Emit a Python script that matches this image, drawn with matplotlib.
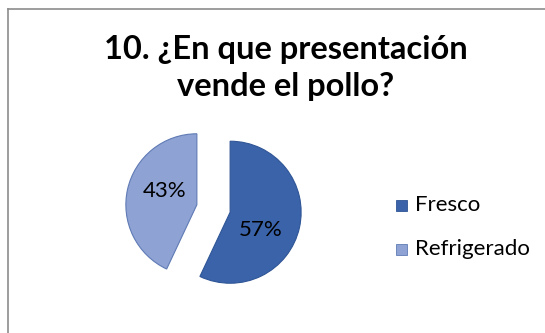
import numpy as np
import matplotlib
matplotlib.use("Agg")
import matplotlib.pyplot as plt
from matplotlib.lines import Line2D

categories = ["Fresco", "Refrigerado"]
shares = [57, 43]
pct_labels = ["57%", "43%"]
colors = ["#3A63AA", "#8EA3D3"]
edge_colors = ["#2F5596", "#5F7AB5"]

W, H, DPI = 545, 333, 100
fig = plt.figure(figsize=(W / DPI, H / DPI), dpi=DPI)
fig.patch.set_facecolor("white")
FONT = ["Lato", "DejaVu Sans"]

# chart frame (open to the right and bottom)
fig.add_artist(Line2D([7.5 / W, 7.5 / W], [0, 1 - 8.5 / H], transform=fig.transFigure,
                      color="#8C8C8C", lw=1.2))
fig.add_artist(Line2D([7.5 / W, 1], [1 - 8.5 / H, 1 - 8.5 / H], transform=fig.transFigure,
                      color="#8C8C8C", lw=1.2))

fig.text(286 / W, 1 - 68 / H, "10. ¿En que presentación\nvende el pollo?",
         ha="center", va="center", fontsize=23.5, fontweight="bold",
         family=FONT, linespacing=1.3, color="black")

# pie axes: center ~ (213.5, 208.5) px, radius ~71 px
r_px = 71
cx, cy = 213.5, 208.5
half = 110
ax = fig.add_axes([(cx - half) / W, 1 - (cy + half) / H, 2 * half / W, 2 * half / H])

wedges, _ = ax.pie(shares, colors=colors, startangle=90, counterclock=False,
                   explode=[0.24, 0.24], radius=1.0,
                   wedgeprops=dict(linewidth=0.8))
for w, ec in zip(wedges, edge_colors):
    w.set_edgecolor(ec)
ax.set_xlim(-half / r_px, half / r_px)
ax.set_ylim(-half / r_px, half / r_px)
ax.set_aspect("equal")
ax.axis("off")

# percentage labels placed inside each exploded wedge
label_shift = [-18, -11]
for w, lab, shift in zip(wedges, pct_labels, label_shift):
    mid = np.deg2rad((w.theta1 + w.theta2) / 2 + shift)
    x0, y0 = w.center
    ax.text(x0 + 0.5 * np.cos(mid), y0 + 0.5 * np.sin(mid), lab,
            ha="center", va="center", fontsize=16, family=FONT, color="black")

# legend
leg_y = [205, 249]
for cat, col, ec, y in zip(categories, colors, edge_colors, leg_y):
    fig.patches.append(plt.Rectangle((396 / W, 1 - (y + 5.5) / H), 11 / W, 11 / H,
                                     transform=fig.transFigure, facecolor=col,
                                     edgecolor=ec, lw=0.6))
    fig.text(415 / W, 1 - y / H, cat, ha="left", va="center", fontsize=16,
             family=FONT, color="black")

fig.savefig("out.png", dpi=DPI)
